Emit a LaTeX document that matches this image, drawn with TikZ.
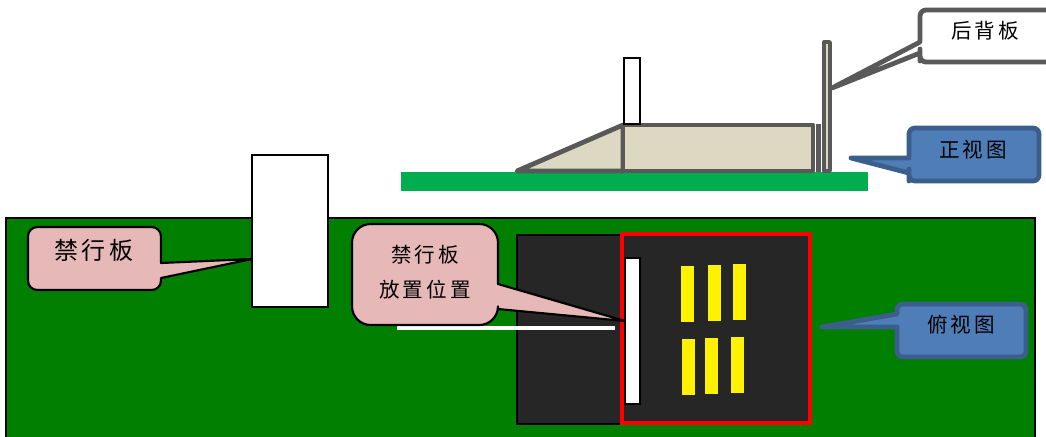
\documentclass[tikz,border=0pt]{standalone}
\usepackage{fontspec}
\newfontfamily\cjk[LetterSpace=15]{Noto Sans CJK SC}
\definecolor{boardgreen}{HTML}{007F00}
\definecolor{bargreen}{HTML}{00AE50}
\definecolor{darkpad}{HTML}{262626}
\definecolor{calloutpink}{HTML}{E6B8B7}
\definecolor{calloutblue}{HTML}{4F7DB8}
\definecolor{blueedge}{HTML}{3B5E8C}
\definecolor{greyedge}{HTML}{595959}
\definecolor{rampfill}{HTML}{DDD8C2}
\tikzset{
  pinkcall/.style={draw=black, fill=calloutpink, line width=1.6pt, line join=round},
  bluecall/.style={draw=blueedge, fill=calloutblue, line width=3.6pt, line join=round},
  greypart/.style={draw=greyedge, fill=rampfill, line width=3.6pt, line join=round},
  whitepart/.style={draw=black, fill=white, line width=1.3pt},
  yellowbar/.style={fill=yellow},
  bigtext/.style={font=\cjk\fontsize{18pt}{22pt}\selectfont, text=black},
  smalltext/.style={font=\cjk\fontsize{15.4pt}{26.4pt}\selectfont, text=black, align=center},
}
\begin{document}
\begin{tikzpicture}[x=0.75pt,y=-0.75pt]
\useasboundingbox (0,0) rectangle (1046,436);
% boards
\draw [draw=black, fill=boardgreen, line width=1.3pt] (6,218) rectangle (1035,445);
\fill [bargreen] (401,172) rectangle (868,191);
\draw [whitepart] (252,155) rectangle (328,307);
% top view
\draw [draw=black, fill=darkpad, line width=1.6pt] (517,235) rectangle (621,424);
\draw [draw=red, fill=darkpad, line width=3.4pt] (622,234) rectangle (810,423);
\draw [whitepart] (625,258) rectangle (640,404);
\fill [yellowbar] (681,266) rectangle (694,322);
\fill [yellowbar] (708,265) rectangle (721,321);
\fill [yellowbar] (733,264) rectangle (746,320);
\fill [yellowbar] (682,339) rectangle (695,395);
\fill [yellowbar] (705,338) rectangle (718,394);
\fill [yellowbar] (731,337) rectangle (744,393);
\draw [draw=white, line width=2.6pt] (397,328) -- (615,328);
% front view
\draw [greypart] (517,171) -- (623,125) -- (623,171) -- cycle;
\draw [greypart] (623,125) rectangle (813,171);
\draw [draw=greyedge, fill=greyedge, line width=2pt] (817.5,125) rectangle (820,171);
\draw [draw=greyedge, fill=rampfill, line width=2.8pt, line join=round] (824.3,42) rectangle (830,171);
\draw [whitepart] (624,58) rectangle (640,124);
% callouts
\draw [pinkcall, rounded corners=7pt] (28,227) -- (161,227) -- (161,250) [sharp corners] -- (161,263) -- (252,259) -- (161,278) -- (161,280) [rounded corners=7pt] -- (161,290) -- (28,290) -- cycle;
\draw [pinkcall, rounded corners=14pt] (352,224) -- (498,224) -- (498,260) [sharp corners] -- (498,284) -- (625,321) -- (498,309) -- (498,310) [rounded corners=14pt] -- (498,325) -- (352,325) -- cycle;
\draw [bluecall, rounded corners=4.5pt] (909,128) -- (1039,128) -- (1039,181) -- (909,181) -- (909,175) [sharp corners] -- (909,173) -- (851,158) -- (909,158) -- (909,150) [rounded corners=4.5pt] -- cycle;
\draw [bluecall, rounded corners=4.5pt] (897,304) -- (1026,304) -- (1026,357) -- (897,357) -- (897,340) [sharp corners] -- (897,327) -- (822,327) -- (897,314) -- (897,312) [rounded corners=4.5pt] -- cycle;
\draw [draw=greyedge, fill=white, line width=3.6pt, line join=round, rounded corners=4.5pt] (920,10) -- (1052,10) -- (1052,62) -- (920,62) -- (920,55) [sharp corners] -- (920,53) -- (832,88) -- (920,42) -- (920,30) [rounded corners=4.5pt] -- cycle;
% labels
\node [bigtext] (bannedlabel) at (94,250) {禁行板};
\node [smalltext] (placelabel) at (425,272) {禁行板\\放置位置};
\node [smalltext] (backlabel) at (985,31) {后背板};
\node [smalltext] (frontlabel) at (973,150) {正视图};
\node [smalltext] (toplabel) at (961,325) {俯视图};
\end{tikzpicture}
\end{document}
